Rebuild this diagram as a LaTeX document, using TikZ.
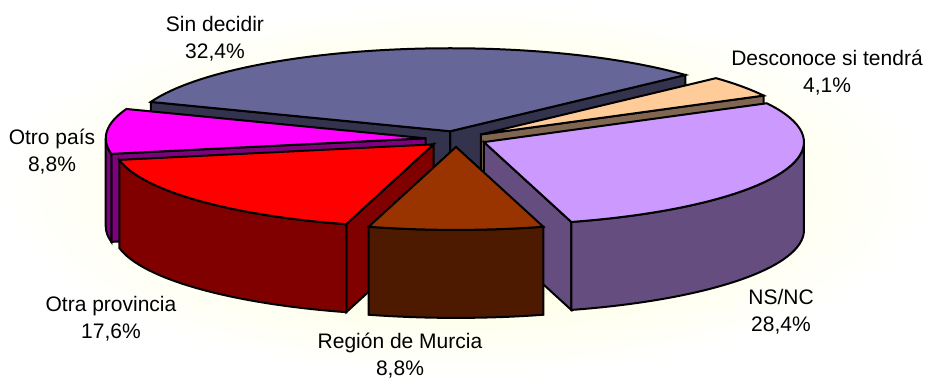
\documentclass[tikz,border=0pt]{standalone}
\usepackage{fontspec}
\setmainfont{Liberation Sans}
\usepackage{tikz}

\definecolor{bgin}{HTML}{FFFFC8}
\definecolor{sdtop}{HTML}{666699}
\definecolor{sdside}{HTML}{33334D}
\definecolor{detop}{HTML}{FFCC99}
\definecolor{deside}{HTML}{806650}
\definecolor{nstop}{HTML}{CC99FF}
\definecolor{nsside}{HTML}{664D80}
\definecolor{mutop}{HTML}{993300}
\definecolor{muside}{HTML}{4D1A00}
\definecolor{optop}{HTML}{FF0000}
\definecolor{opside}{HTML}{800000}
\definecolor{ottop}{HTML}{FF00FF}
\definecolor{otside}{HTML}{800080}

\begin{document}
\begin{tikzpicture}[x=1pt,y=1pt,line width=2pt,
    face/.style={draw=black,line join=miter},
    lbl/.style={align=center,font=\fontsize{21}{27}\selectfont}]
        \shade[inner color=bgin,outer color=white] (0,0) rectangle (928,378);
        \useasboundingbox (0,0) rectangle (928,378);
        % centre of the pie and the apex of every slice
        \coordinate (c) at (456,239);
        \path (c) ++(101:30.4 and 7.9) coordinate (sd);
        \path (c) ++(35.3:30.4 and 7.9) coordinate (de);
        \path (c) ++(-23.1:30.4 and 7.9) coordinate (ns);
        \path (c) ++(270:30.4 and 7.9) coordinate (mu);
        \path (c) ++(222.5:30.4 and 7.9) coordinate (op);
        \path (c) ++(175:30.4 and 7.9) coordinate (ot);
        % Sin decidir
        \filldraw[face,fill=sdside] (sd) -- ++(42.7:320 and 83) -- ++(0,-88) -- ++(222.7:320 and 83) -- cycle;
        \filldraw[face,fill=sdside] (sd) -- ++(159.3:320 and 83) -- ++(0,-88) -- ++(339.3:320 and 83) -- cycle;
        \filldraw[face,fill=sdtop] (sd) -- ++(42.7:320 and 83) arc[start angle=42.7,end angle=159.3,x radius=320,y radius=83] -- cycle;
        % Desconoce si tendra
        \filldraw[face,fill=deside] (de) -- ++(27.9:320 and 83) -- ++(0,-88) -- ++(207.9:320 and 83) -- cycle;
        \filldraw[face,fill=detop] (de) -- ++(27.9:320 and 83) arc[start angle=27.9,end angle=42.7,x radius=320,y radius=83] -- cycle;
        % Otro pais
        \filldraw[face,fill=otside] (ot) -- ++(190.8:320 and 83) -- ++(0,-88) -- ++(10.8:320 and 83) -- cycle;
        \filldraw[face,fill=otside] (ot) ++(180:320 and 83) arc[start angle=180,end angle=190.8,x radius=320,y radius=83] -- ++(0,-88) arc[start angle=190.8,end angle=180,x radius=320,y radius=83] -- cycle;
        \filldraw[face,fill=ottop] (ot) -- ++(159.3:320 and 83) arc[start angle=159.3,end angle=190.8,x radius=320,y radius=83] -- cycle;
        % NS/NC
        \filldraw[face,fill=nsside] (ns) -- ++(-74.16:320 and 83) -- ++(0,-88) -- ++(105.84:320 and 83) -- cycle;
        \filldraw[face,fill=nsside] (ns) ++(-74.16:320 and 83) arc[start angle=-74.16,end angle=0,x radius=320,y radius=83] -- ++(0,-88) arc[start angle=0,end angle=-74.16,x radius=320,y radius=83] -- cycle;
        \filldraw[face,fill=nstop] (ns) -- ++(-74.16:320 and 83) arc[start angle=-74.16,end angle=27.9,x radius=320,y radius=83] -- cycle;
        % Otra provincia
        \filldraw[face,fill=opside] (op) -- ++(254.16:320 and 83) -- ++(0,-88) -- ++(74.16:320 and 83) -- cycle;
        \filldraw[face,fill=opside] (op) ++(190.8:320 and 83) arc[start angle=190.8,end angle=254.16,x radius=320,y radius=83] -- ++(0,-88) arc[start angle=254.16,end angle=190.8,x radius=320,y radius=83] -- cycle;
        \filldraw[face,fill=optop] (op) -- ++(190.8:320 and 83) arc[start angle=190.8,end angle=254.16,x radius=320,y radius=83] -- cycle;
        % Region de Murcia
        \filldraw[face,fill=muside] (mu) ++(254.16:320 and 83) arc[start angle=254.16,end angle=285.84,x radius=320,y radius=83] -- ++(0,-88) arc[start angle=285.84,end angle=254.16,x radius=320,y radius=83] -- cycle;
        \filldraw[face,fill=mutop] (mu) -- ++(254.16:320 and 83) arc[start angle=254.16,end angle=285.84,x radius=320,y radius=83] -- cycle;
        % labels
        \node[lbl] (sdlabel) at (215,339.5) {Sin decidir\\32,4\%};
        \node[lbl] (delabel) at (827,305.5) {Desconoce si tendrá\\4,1\%};
        \node[lbl] (nslabel) at (781,66.5) {NS/NC\\28,4\%};
        \node[lbl] (mulabel) at (400,22.5) {Región de Murcia\\8,8\%};
        \node[lbl] (oplabel) at (111,59.5) {Otra provincia\\17,6\%};
        \node[lbl] (otlabel) at (52,226.5) {Otro país\\8,8\%};
    \end{tikzpicture}
\end{document}
